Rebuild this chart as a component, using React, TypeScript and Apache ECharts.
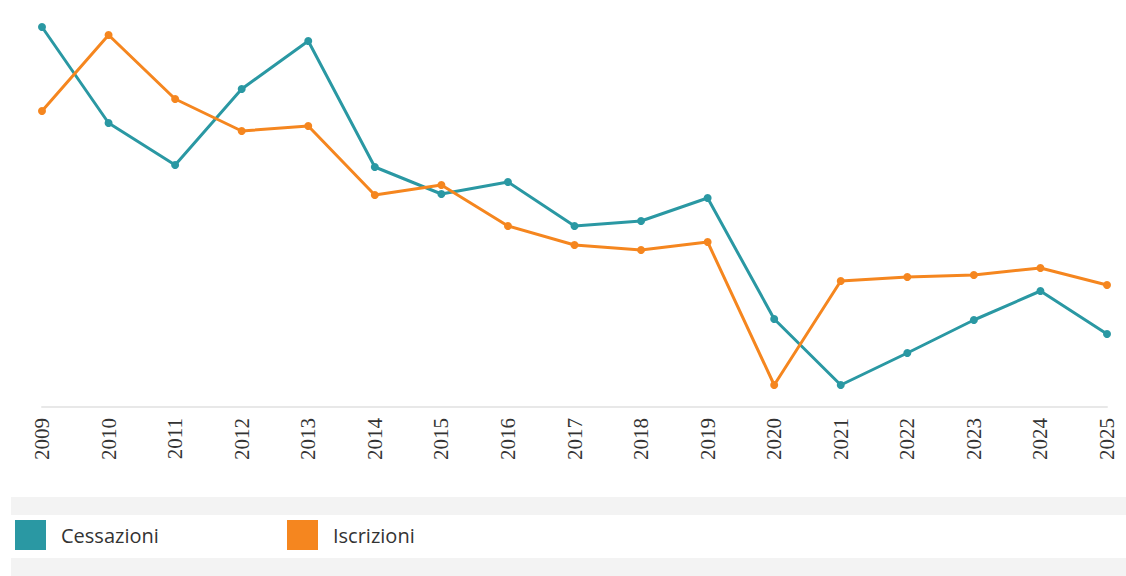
import React, { useEffect, useRef } from "react";
import * as echarts from "echarts";

const years = ["2009","2010","2011","2012","2013","2014","2015","2016","2017","2018","2019","2020","2021","2022","2023","2024","2025"];
const cessazioni = [380, 284, 242, 318, 366, 240, 213, 225, 181, 186, 209, 88, 22, 54, 87, 116, 73];
const iscrizioni = [296, 372, 308, 276, 281, 212, 222, 181, 162, 157, 165, 22, 126, 130, 132, 139, 122];
const seriesNames = ["Cessazioni", "Iscrizioni"];

const TEAL = "#2a98a3";
const ORANGE = "#f5861f";

export default function App() {
  const ref = useRef<HTMLDivElement>(null);
  useEffect(() => {
    if (!ref.current) return;
    const chart = echarts.init(ref.current, undefined, { renderer: "svg" });
    const legendBase = {
      top: 520,
      padding: 0,
      icon: "rect",
      itemWidth: 31,
      itemHeight: 30,
      textStyle: {
        fontFamily: "Open Sans",
        fontSize: 20,
        color: "#333333",
        padding: [0, 0, 0, 10],
      },
    };
    chart.setOption({
      animation: false,
      backgroundColor: "#ffffff",
      graphic: [
        { type: "rect", z: -10, shape: { x: 11, y: 497, width: 1115, height: 18 }, style: { fill: "#f3f3f3" } },
        { type: "rect", z: -10, shape: { x: 11, y: 558, width: 1115, height: 18 }, style: { fill: "#f3f3f3" } },
      ],
      grid: { left: 42, right: 19, top: 7, bottom: 169, containLabel: false },
      xAxis: {
        type: "category",
        data: years,
        boundaryGap: false,
        axisLine: { lineStyle: { color: "#e8e8e8", width: 2 } },
        axisTick: { show: false },
        axisLabel: {
          rotate: 90,
          margin: 11,
          fontFamily: "Liberation Serif",
          fontSize: 21,
          color: "#333333",
          interval: 0,
        },
        splitLine: { show: false },
      },
      yAxis: {
        type: "value",
        min: 0,
        max: 400,
        show: false,
        splitLine: { show: false },
      },
      legend: [
        { ...legendBase, left: 15, data: [seriesNames[0]] },
        { ...legendBase, left: 287, data: [seriesNames[1]] },
      ],
      series: [
        {
          name: seriesNames[0],
          type: "line",
          data: cessazioni,
          symbol: "circle",
          symbolSize: 8,
          color: TEAL,
          lineStyle: { width: 3, color: TEAL },
          itemStyle: { color: TEAL },
        },
        {
          name: seriesNames[1],
          type: "line",
          data: iscrizioni,
          symbol: "circle",
          symbolSize: 8,
          color: ORANGE,
          lineStyle: { width: 3, color: ORANGE },
          itemStyle: { color: ORANGE },
        },
      ],
    });
    return () => chart.dispose();
  }, []);
  return (
    <div
      ref={ref}
      style={{ position: "absolute", left: 0, top: 0, width: 1126, height: 576 }}
    />
  );
}
